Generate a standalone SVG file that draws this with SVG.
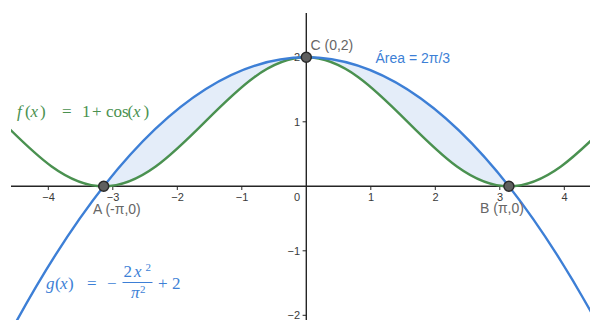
<svg xmlns="http://www.w3.org/2000/svg" width="590" height="320" viewBox="0 0 590 320">
<style>
.curve{fill:none;stroke-width:2.4;vector-effect:non-scaling-stroke;stroke-linejoin:round;stroke-linecap:round}
.f{stroke:#4a9150}
.g{stroke:#3d7fd6}
.axis{stroke:#252525;stroke-width:1.4;fill:none}
.tk{stroke:#252525;stroke-width:1}
.tick{font-family:"Liberation Sans",Arial,sans-serif;font-size:11px;fill:#3a3a3a}
.pt{fill:#5f5f5f;stroke:#2a2a2a;stroke-width:1.5}
.plabel{font-family:"Liberation Sans",Arial,sans-serif;font-size:14px;fill:#666}
.math{font-family:"Liberation Serif","Times New Roman",serif;font-size:17px}
.it{font-style:italic}
.mf{fill:#4a9150}
.mg{fill:#3d7fd6}
</style>
<defs>
<clipPath id="view"><rect x="11" y="13" width="579" height="307"/></clipPath>
</defs>
<g clip-path="url(#view)">
<g id="region" transform="matrix(64.5 0 0 -64.5 306.3 186.3)">
<path fill="#e4edf9" d="M -3.1416 0 Q 0 4 3.1416 0 C 2.5731 0 2.0831 0.4877 1.5708 1 C 1.0585 1.5123 0.5685 2 0 2 C -0.5685 2 -1.0585 1.5123 -1.5708 1 C -2.0831 0.4877 -2.5731 0 -3.1416 0 Z"/>
</g>
<g id="axes">
<line class="axis" x1="11" y1="186.3" x2="590" y2="186.3"/>
<line class="axis" x1="306.3" y1="13" x2="306.3" y2="320"/>
<g class="tk">
<line x1="48.3" y1="186.3" x2="48.3" y2="190"/>
<line x1="112.8" y1="186.3" x2="112.8" y2="190"/>
<line x1="177.3" y1="186.3" x2="177.3" y2="190"/>
<line x1="241.8" y1="186.3" x2="241.8" y2="190"/>
<line x1="370.8" y1="186.3" x2="370.8" y2="190"/>
<line x1="435.3" y1="186.3" x2="435.3" y2="190"/>
<line x1="499.8" y1="186.3" x2="499.8" y2="190"/>
<line x1="564.3" y1="186.3" x2="564.3" y2="190"/>
<line x1="302.6" y1="57.3" x2="306.3" y2="57.3"/>
<line x1="302.6" y1="121.8" x2="306.3" y2="121.8"/>
<line x1="302.6" y1="250.8" x2="306.3" y2="250.8"/>
<line x1="302.6" y1="315.3" x2="306.3" y2="315.3"/>
</g>
<g class="tick" text-anchor="middle">
<text x="48.6" y="201">−4</text>
<text x="113" y="201">−3</text>
<text x="177.6" y="201">−2</text>
<text x="242" y="201">−1</text>
<text x="371" y="201">1</text>
<text x="435.6" y="201">2</text>
<text x="500" y="201">3</text>
<text x="564.6" y="201">4</text>
</g>
<g class="tick" text-anchor="end">
<text x="300" y="201">0</text>
<text x="300" y="61.3">2</text>
<text x="300" y="125.8">1</text>
<text x="300" y="254.8">−1</text>
<text x="300" y="319.3">−2</text>
</g>
</g>
<g id="curve-f" transform="matrix(64.5 0 0 -64.5 306.3 186.3)">
<path class="curve f" d="M -4.7124 1 C -4.2001 0.4877 -3.7101 0 -3.1416 0 C -2.5731 0 -2.0831 0.4877 -1.5708 1 C -1.0585 1.5123 -0.5685 2 0 2 C 0.5685 2 1.0585 1.5123 1.5708 1 C 2.0831 0.4877 2.5731 0 3.1416 0 C 3.7101 0 4.2001 0.4877 4.7124 1"/>
</g>
<g id="curve-g" transform="matrix(64.5 0 0 -64.5 306.3 186.3)">
<path class="curve g" d="M -4.65 -2.3817 Q 0 6.3817 4.65 -2.3817"/>
</g>
</g>
<g id="point-A">
<circle class="pt" cx="103.7" cy="186.3" r="5"/>
<text class="plabel" x="93" y="214">A (-π,0)</text>
</g>
<g id="point-B">
<circle class="pt" cx="508.9" cy="186.3" r="5"/>
<text class="plabel" x="480" y="213">B (π,0)</text>
</g>
<g id="point-C">
<circle class="pt" cx="306.3" cy="57.3" r="5"/>
<text class="plabel" x="310.5" y="50">C (0,2)</text>
</g>
<g id="area-label">
<text x="375.5" y="63" font-family="Liberation Sans, Arial, sans-serif" font-size="14px" fill="#3d7fd6">Área = 2π/3</text>
</g>
<g id="label-f">
<text class="math mf" y="117"><tspan x="17" class="it">f</tspan><tspan x="25">(</tspan><tspan x="30.5" class="it">x</tspan><tspan x="40">)</tspan><tspan x="62">=</tspan><tspan x="82">1</tspan><tspan x="92">+</tspan><tspan x="106">cos</tspan><tspan x="127.5">(</tspan><tspan x="133" class="it">x</tspan><tspan x="143.5">)</tspan></text>
</g>
<g id="label-g">
<text class="math mg" y="288.5"><tspan x="46" class="it">g</tspan><tspan x="55">(</tspan><tspan x="60" class="it">x</tspan><tspan x="68">)</tspan><tspan x="87">=</tspan><tspan x="107">−</tspan></text>
<text class="math mg" y="277"><tspan x="123.5">2</tspan><tspan x="134" class="it">x</tspan><tspan x="145.5" y="270.5" font-size="11px">2</tspan></text>
<line x1="122.5" y1="282.5" x2="152.5" y2="282.5" stroke="#3d7fd6" stroke-width="1"/>
<text class="math mg" y="298"><tspan x="131" class="it">π</tspan><tspan x="140" y="292.5" font-size="11px">2</tspan></text>
<text class="math mg" y="288.5"><tspan x="158">+</tspan><tspan x="172">2</tspan></text>
</g>
</svg>
